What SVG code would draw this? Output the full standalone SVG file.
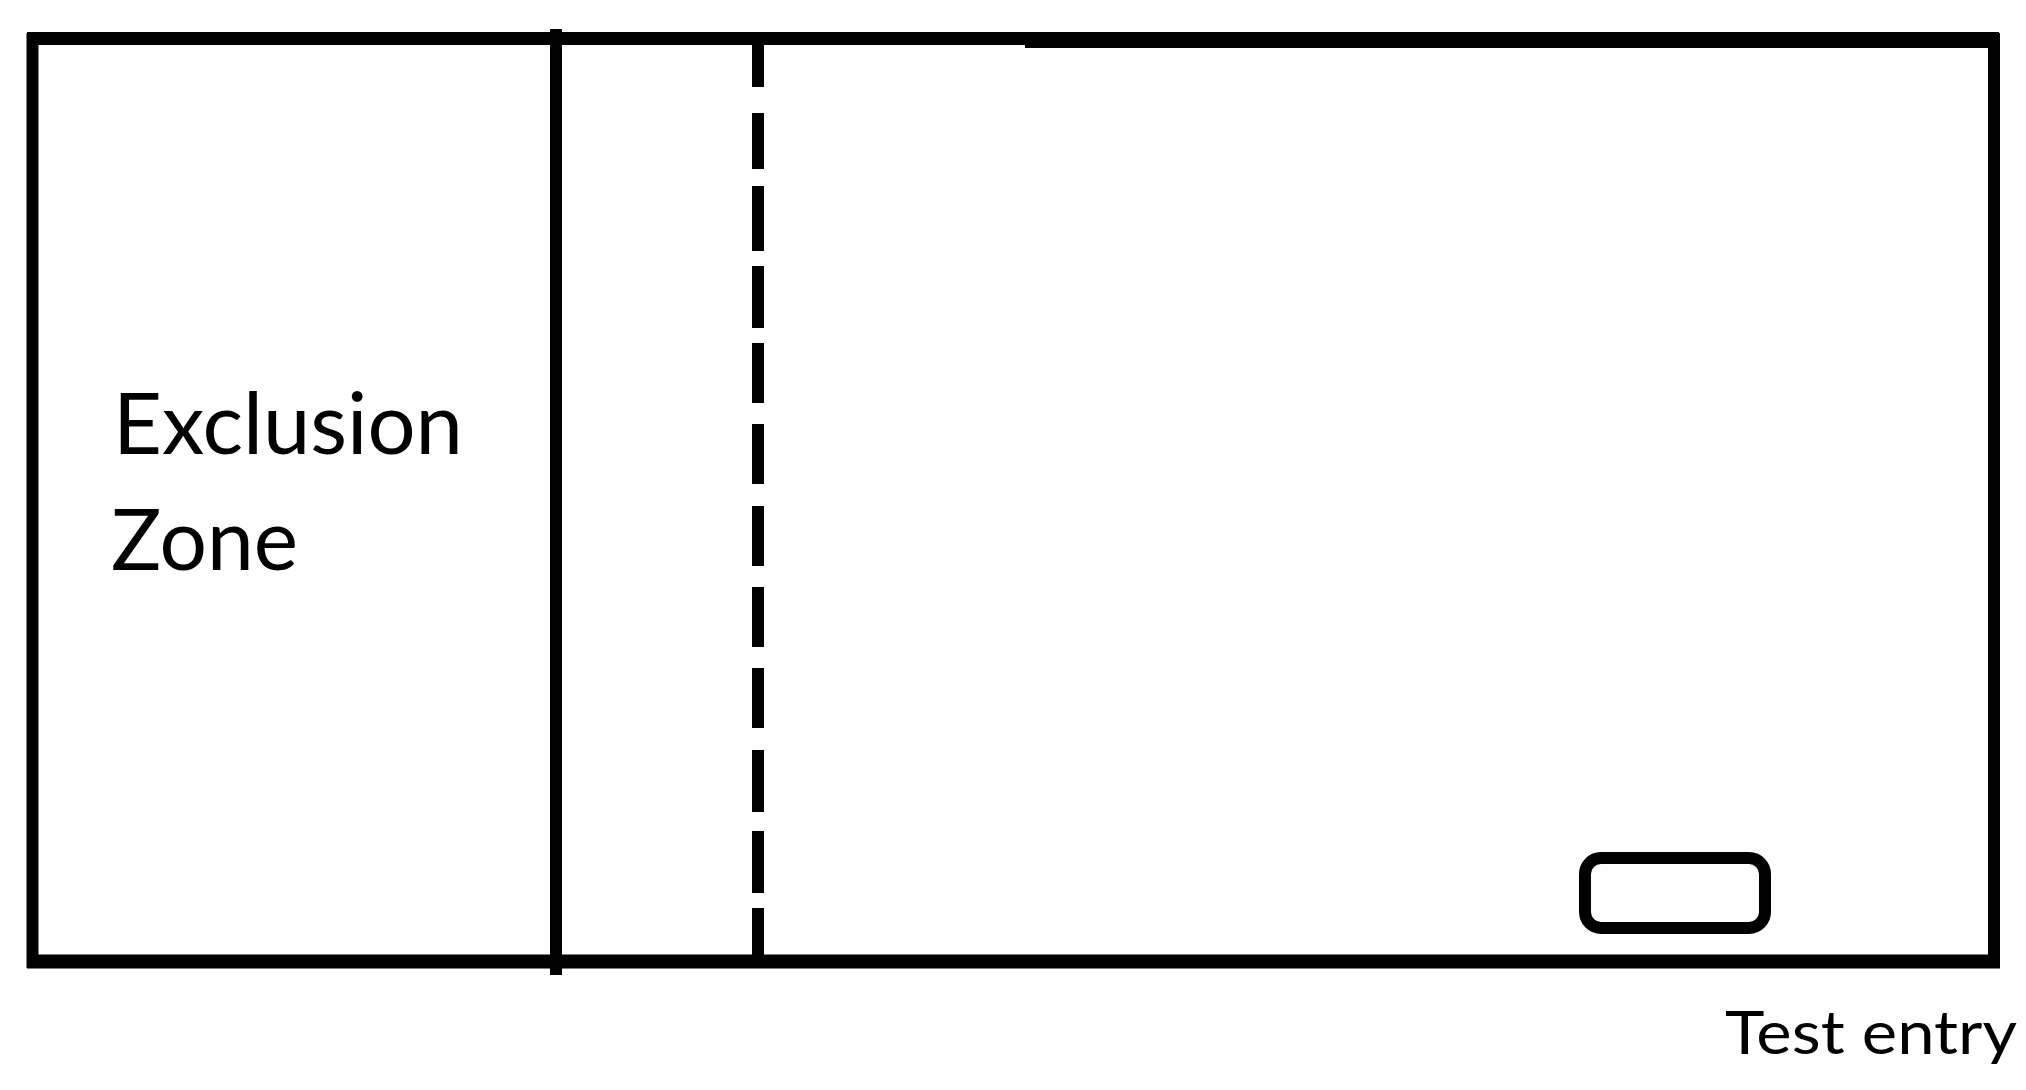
<svg xmlns="http://www.w3.org/2000/svg" width="2026" height="1090" viewBox="0 0 2026 1090">
<style>
.ln{stroke:#000;stroke-width:12;fill:none}
.lbl{font-family:Lato,"Open Sans","Liberation Sans",sans-serif;fill:#000}
</style>
<rect x="0" y="0" width="2026" height="1090" fill="#fff"/>
<g id="plan">
<line class="ln" x1="27" y1="38.5" x2="1999" y2="38.5" style="stroke-width:13"/>
<line class="ln" x1="1025" y1="42" x2="1996" y2="42"/>
<line class="ln" x1="32.5" y1="33" x2="32.5" y2="968"/>
<line class="ln" x1="1994" y1="33" x2="1994" y2="968"/>
<line class="ln" x1="27" y1="961.5" x2="2000" y2="961.5" style="stroke-width:14"/>
<line class="ln" x1="556" y1="29" x2="556" y2="975"/>
<path class="ln" d="M758 40V87M758 113V169M758 186V251M758 266V328M758 343V403M758 424V484M758 506V566M758 587V647M758 668V728M758 750V812M758 831V893M758 908V958"/>
</g>
<g id="test-entry">
<rect class="ln" x="1585" y="858" width="180" height="70" rx="16"/>
<text class="lbl" x="1725" y="1054" font-size="60" textLength="292" lengthAdjust="spacingAndGlyphs">Test entry</text>
</g>
<g id="exclusion-zone">
<text class="lbl" x="113" y="454" font-size="85" textLength="350" lengthAdjust="spacingAndGlyphs">Exclusion</text>
<text class="lbl" x="111" y="570" font-size="85" textLength="187" lengthAdjust="spacingAndGlyphs">Zone</text>
</g>
</svg>
